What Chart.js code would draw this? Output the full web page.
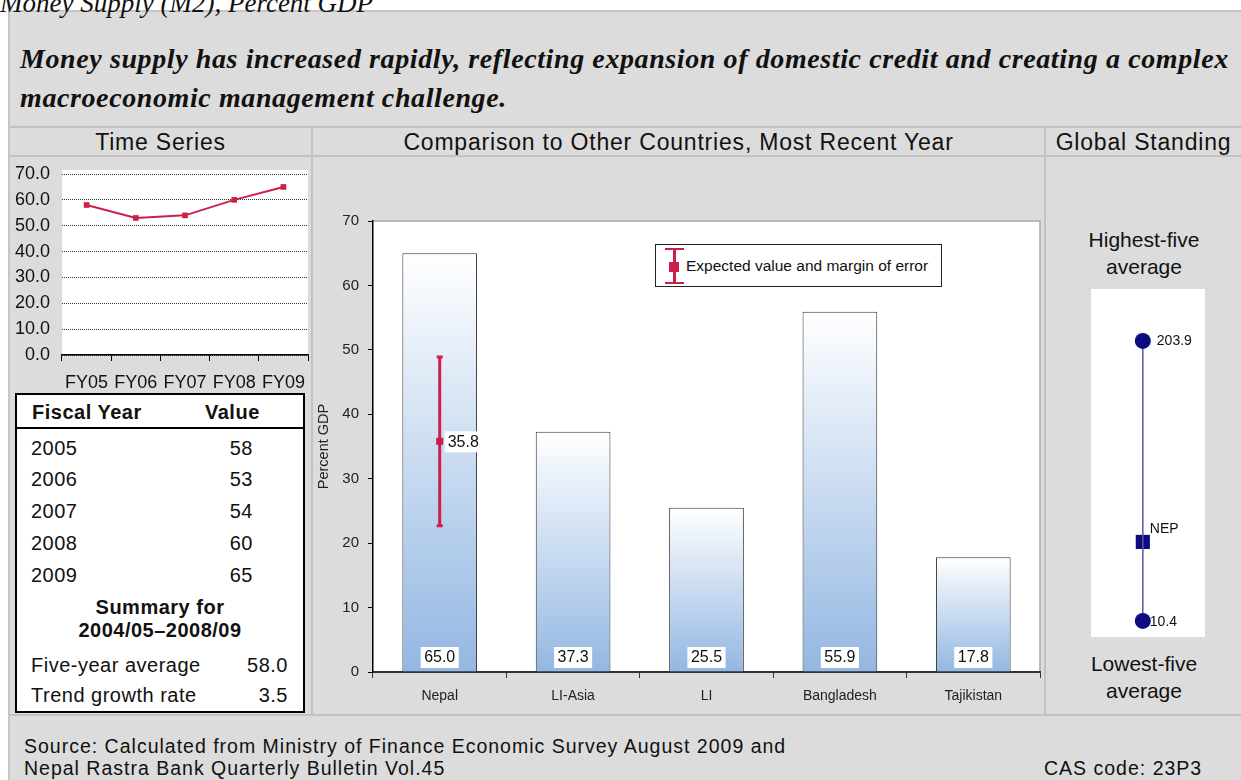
<!DOCTYPE html>
<html>
<head>
<meta charset="utf-8">
<script src="https://cdn.jsdelivr.net/npm/chart.js@4.4.1/dist/chart.umd.min.js"></script>
<style>
    body { margin: 0; background: #fff; font-family: "Liberation Sans", Arial, sans-serif; color: #111; }
    #page { position: relative; width: 1241px; height: 780px; overflow: hidden; }
    .abs { position: absolute; }
    .hline { position: absolute; height: 2px; background: #c2c2c2; }
    .vline { position: absolute; width: 2px; background: #c2c2c2; }
    .colhead { position: absolute; top: 128px; height: 28px; line-height: 28px; font-size: 23px; letter-spacing: 0.8px; text-align: center; white-space: nowrap; }
    #topTitle { left: 0; top: -12px; font: italic 27px "Liberation Serif", "Times New Roman", serif; white-space: nowrap; }
    #panel { left: 8px; top: 10px; width: 1240px; height: 780px; background: #dcdcdc; border-left: 2px solid #c6c6c6; border-top: 2px solid #c6c6c6; }
    #headline { left: 20px; top: 39px; font: italic bold 28px "Liberation Serif", "Times New Roman", serif; letter-spacing: 0.6px; line-height: 39px; white-space: nowrap; }
    #tsTable { left: 15px; top: 393px; width: 286px; height: 316px; border: 2px solid #000; background: #fff; font-size: 20px; letter-spacing: 0.5px; }
    #tsTable span { position: absolute; line-height: 24px; white-space: nowrap; }
    #legend { left: 655px; top: 244px; width: 285px; height: 41px; border: 1px solid #222; background: #fff; }
    .stand { position: absolute; left: 1047px; width: 194px; text-align: center; font-size: 21px; line-height: 27px; }
    .src { position: absolute; font-size: 19.5px; letter-spacing: 1px; line-height: 22px; white-space: nowrap; }
</style>
</head>
<body>
<div id="page">
    <div class="abs" id="panel"></div>
    <div class="abs" id="topTitle">Money Supply (M2), Percent GDP</div>
    <div class="abs" id="headline">Money supply has increased rapidly, reflecting expansion of domestic credit and creating a complex<br>macroeconomic management challenge.</div>

    <div class="hline" style="left:10px; top:126px; width:1231px;"></div>
    <div class="hline" style="left:10px; top:155px; width:1231px;"></div>
    <div class="hline" style="left:10px; top:714px; width:1231px;"></div>
    <div class="vline" style="left:311px; top:126px; height:590px;"></div>
    <div class="vline" style="left:1044px; top:126px; height:590px;"></div>

    <div class="colhead" style="left:10px; width:301px;">Time Series</div>
    <div class="colhead" style="left:313px; width:731px;">Comparison to Other Countries, Most Recent Year</div>
    <div class="colhead" style="left:1046px; width:195px;">Global Standing</div>

    <canvas id="tsChart" class="abs" style="left:8px; top:160px;" width="304" height="232"></canvas>
    <div class="abs" id="tsTable"></div>

    <canvas id="cmpChart" class="abs" style="left:313px; top:158px;" width="732" height="556"></canvas>
    <div class="abs" id="legend">
        <div class="abs" style="left:17px; top:4px; width:3px; height:34px; background:#cc1f4a;"></div>
        <div class="abs" style="left:9px; top:3px; width:19px; height:2px; background:#cc1f4a;"></div>
        <div class="abs" style="left:9px; top:37px; width:19px; height:2px; background:#cc1f4a;"></div>
        <div class="abs" style="left:13px; top:17px; width:10px; height:10px; background:#cc1f4a;"></div>
        <div class="abs" style="left:30px; top:0; line-height:41px; font-size:15.5px; white-space:nowrap;">Expected value and margin of error</div>
    </div>

    <div class="stand" style="top:226px;">Highest-five<br>average</div>
    <canvas id="gsChart" class="abs" style="left:1091px; top:289px; background:#fff;" width="114" height="348"></canvas>
    <div class="stand" style="top:650px;">Lowest-five<br>average</div>

    <div class="src" style="left:24px; top:735px;">Source: Calculated from Ministry of Finance Economic Survey August 2009 and</div>
    <div class="src" style="left:24px; top:757px;">Nepal Rastra Bank Quarterly Bulletin Vol.45</div>
    <div class="src" style="left:1044px; top:757px;">CAS code: 23P3</div>
</div>

<script>
// time series
const fyLabels = ['FY05', 'FY06', 'FY07', 'FY08', 'FY09'];
const fiscalYears = ['2005', '2006', '2007', '2008', '2009'];
const m2Values = [58, 53, 54, 60, 65];
const summaryPeriod = '2004/05\u20132008/09';
const fiveYearAverage = 58.0;
const trendGrowthRate = 3.5;

// comparison
const countries = ['Nepal', 'LI-Asia', 'LI', 'Bangladesh', 'Tajikistan'];
const countryValues = [65.0, 37.3, 25.5, 55.9, 17.8];
const expectedValues = [35.8, null, null, null, null];
const errorLow = [22.7, null, null, null, null];
const errorHigh = [48.9, null, null, null, null];

// global standing
const standingValues = [203.9, 10.4];
const nepalStanding = [65.0];
const nepalCode = 'NEP';

const crimson = '#cc1f4a';
const sansFont = { family: '"Liberation Sans", Arial, sans-serif' };

// table
const tbl = document.getElementById('tsTable');
const rowCenters = [448, 479, 511, 543, 575];
function span(text, centerY, style) {
    const top = centerY - 12 - 395;
    return `<span style="top:${top}px; ${style}">${text}</span>`;
}
let html = '';
html += span('Fiscal Year', 412, 'left:15px; font-weight:bold;');
html += span('Value', 412, 'left:188px; font-weight:bold;');
html += '<div style="position:absolute; left:0; top:32px; width:286px; height:2px; background:#000;"></div>';
fiscalYears.forEach((yr, i) => {
    html += span(yr, rowCenters[i], 'left:14px;');
    html += span(m2Values[i], rowCenters[i], 'left:0; width:236px; text-align:right;');
});
html += span('Summary for', 607, 'left:0; width:286px; text-align:center; font-weight:bold;');
html += span(summaryPeriod, 630, 'left:0; width:286px; text-align:center; font-weight:bold;');
html += span('Five-year average', 665, 'left:14px;');
html += span(fiveYearAverage.toFixed(1), 665, 'left:0; width:271px; text-align:right;');
html += span('Trend growth rate', 695, 'left:14px;');
html += span(trendGrowthRate.toFixed(1), 695, 'left:0; width:271px; text-align:right;');
tbl.innerHTML = html;

const tsBackground = {
    id: 'tsBackground',
    beforeDraw(chart) {
        const { ctx, chartArea } = chart;
        ctx.save();
        ctx.fillStyle = '#fff';
        ctx.fillRect(chartArea.left, chartArea.top - 4, chartArea.right - chartArea.left, chartArea.bottom - chartArea.top + 4);
        ctx.restore();
    }
};

new Chart(document.getElementById('tsChart'), {
    type: 'line',
    data: {
        labels: fyLabels,
        datasets: [{
            data: m2Values,
            borderColor: crimson,
            backgroundColor: crimson,
            borderWidth: 2,
            pointStyle: 'rect',
            pointRadius: 4,
            pointBackgroundColor: crimson,
            pointBorderWidth: 0
        }]
    },
    options: {
        responsive: false,
        animation: false,
        layout: { padding: { top: 14, right: 0, left: 0, bottom: 0 } },
        plugins: { legend: { display: false }, tooltip: { enabled: false } },
        scales: {
            x: {
                offset: true,
                afterFit: s => { s.height = 37; s.paddingLeft = 0; s.paddingRight = 0; },
                grid: { offset: true, drawOnChartArea: false, drawTicks: true, tickLength: 6, tickColor: '#000' },
                border: { color: '#000', width: 1.5 },
                ticks: { color: '#111', font: { ...sansFont, size: 18 }, padding: 11, maxRotation: 0 }
            },
            y: {
                min: 0,
                max: 70,
                afterFit: s => { s.width = 54; s.paddingTop = 0; s.paddingBottom = 0; },
                grid: { color: '#333', lineWidth: 1, drawTicks: false },
                border: { display: false, dash: [1, 1] },
                ticks: {
                    stepSize: 10,
                    color: '#111',
                    font: { ...sansFont, size: 18 },
                    padding: 12,
                    callback: v => v.toFixed(1)
                }
            }
        }
    },
    plugins: [tsBackground]
});

// comparison chart
const plotFrame = {
    id: 'plotFrame',
    beforeDraw(chart) {
        const { ctx, chartArea: a } = chart;
        ctx.save();
        ctx.fillStyle = '#fff';
        ctx.fillRect(a.left, a.top, a.right - a.left, a.bottom - a.top);
        ctx.strokeStyle = '#a8a8a8';
        ctx.lineWidth = 1.5;
        ctx.beginPath();
        ctx.moveTo(a.left, a.top);
        ctx.lineTo(a.right, a.top);
        ctx.lineTo(a.right, a.bottom);
        ctx.stroke();
        ctx.restore();
    }
};

const errorBars = {
    id: 'errorBars',
    beforeDatasetDraw(chart, args) {
        if (args.index !== 1) return;
        const { ctx } = chart;
        const ys = chart.scales.y;
        const pts = chart.getDatasetMeta(1).data;
        ctx.save();
        ctx.strokeStyle = crimson;
        pts.forEach((p, i) => {
            if (errorLow[i] == null) return;
            const yTop = ys.getPixelForValue(errorHigh[i]);
            const yBot = ys.getPixelForValue(errorLow[i]);
            ctx.lineWidth = 3;
            ctx.beginPath();
            ctx.moveTo(p.x, yTop);
            ctx.lineTo(p.x, yBot);
            ctx.stroke();
            ctx.beginPath();
            ctx.moveTo(p.x - 3, yTop); ctx.lineTo(p.x + 3, yTop);
            ctx.moveTo(p.x - 3, yBot); ctx.lineTo(p.x + 3, yBot);
            ctx.stroke();
        });
        ctx.restore();
    },
    afterDatasetsDraw(chart) {
        const { ctx } = chart;
        const ys = chart.scales.y;
        const base = ys.getPixelForValue(0);
        ctx.save();
        ctx.font = '16px "Liberation Sans", Arial, sans-serif';
        ctx.textBaseline = 'middle';
        chart.getDatasetMeta(0).data.forEach((bar, i) => {
            const txt = countryValues[i].toFixed(1);
            const w = ctx.measureText(txt).width + 7;
            ctx.fillStyle = '#fff';
            ctx.fillRect(bar.x - w / 2, base - 25, w, 21);
            ctx.fillStyle = '#111';
            ctx.textAlign = 'center';
            ctx.fillText(txt, bar.x, base - 14);
        });
        chart.getDatasetMeta(1).data.forEach((p, i) => {
            if (expectedValues[i] == null) return;
            const txt = expectedValues[i].toFixed(1);
            const w = ctx.measureText(txt).width + 6;
            ctx.fillStyle = '#fff';
            ctx.fillRect(p.x + 5, p.y - 10, w, 21);
            ctx.fillStyle = '#111';
            ctx.textAlign = 'left';
            ctx.fillText(txt, p.x + 8, p.y + 1);
        });
        ctx.restore();
    }
};

function barGradient(c) {
    if (c.type !== 'data' || !c.chart.chartArea) return '#a8c4e7';
    const ys = c.chart.scales.y;
    const top = ys.getPixelForValue(c.raw);
    const bottom = ys.getPixelForValue(0);
    const g = c.chart.ctx.createLinearGradient(0, top, 0, bottom);
    g.addColorStop(0, '#ffffff');
    g.addColorStop(1, '#93b7e2');
    return g;
}

new Chart(document.getElementById('cmpChart'), {
    type: 'bar',
    data: {
        labels: countries,
        datasets: [{
            type: 'bar',
            data: countryValues,
            backgroundColor: barGradient,
            borderColor: '#333',
            borderWidth: 1,
            barPercentage: 0.7,
            categoryPercentage: 0.8,
            order: 1
        }, {
            type: 'line',
            data: expectedValues,
            showLine: false,
            pointStyle: 'rect',
            pointRadius: 5,
            pointBackgroundColor: crimson,
            pointBorderWidth: 0,
            order: 0
        }]
    },
    options: {
        responsive: false,
        animation: false,
        layout: { padding: { top: 63, right: 3, left: 0, bottom: 0 } },
        plugins: { legend: { display: false }, tooltip: { enabled: false } },
        scales: {
            x: {
                afterFit: s => { s.height = 42; },
                grid: { offset: true, drawOnChartArea: false, drawTicks: true, tickLength: 6, tickColor: '#333' },
                border: { color: '#333', width: 2 },
                ticks: { color: '#222', font: { ...sansFont, size: 14 }, padding: 10, maxRotation: 0 }
            },
            y: {
                min: 0,
                max: 70,
                afterFit: s => { s.width = 60; },
                grid: { drawOnChartArea: false, drawTicks: true, tickLength: 5, tickColor: '#000' },
                border: { color: '#000', width: 1.5 },
                title: { display: true, text: 'Percent GDP', color: '#222', font: { ...sansFont, size: 14.5 }, padding: { top: 2, bottom: 0 } },
                ticks: { stepSize: 10, color: '#222', font: { ...sansFont, size: 15 }, padding: 9 }
            }
        }
    },
    plugins: [plotFrame, errorBars]
});

// global standing
const standingLabels = {
    id: 'standingLabels',
    afterDatasetsDraw(chart) {
        const { ctx } = chart;
        const circles = chart.getDatasetMeta(0).data;
        const sq = chart.getDatasetMeta(1).data[0];
        ctx.save();
        ctx.font = '14px "Liberation Sans", Arial, sans-serif';
        ctx.fillStyle = '#111';
        ctx.textBaseline = 'middle';
        ctx.textAlign = 'left';
        ctx.fillText(standingValues[0].toFixed(1), circles[0].x + 14, circles[0].y);
        ctx.fillText(standingValues[1].toFixed(1), circles[1].x + 7, circles[1].y + 1);
        ctx.fillText(nepalCode, sq.x + 7, sq.y - 13);
        ctx.restore();
    }
};

new Chart(document.getElementById('gsChart'), {
    type: 'scatter',
    data: {
        datasets: [{
            data: standingValues.map(v => ({ x: 0, y: v })),
            showLine: true,
            borderColor: '#5858a8',
            borderWidth: 1.5,
            pointStyle: 'circle',
            pointRadius: 8,
            pointBackgroundColor: '#0c0c80',
            pointBorderWidth: 0
        }, {
            data: nepalStanding.map(v => ({ x: 0, y: v })),
            pointStyle: 'rect',
            pointRadius: 10,
            pointBackgroundColor: '#0c0c80',
            pointBorderWidth: 0
        }]
    },
    options: {
        responsive: false,
        animation: false,
        layout: { padding: 0, autoPadding: false },
        plugins: { legend: { display: false }, tooltip: { enabled: false } },
        scales: {
            x: { display: false, min: -1, max: 1.2 },
            y: { display: false, min: -0.7, max: 239.8 }
        }
    },
    plugins: [standingLabels]
});
</script>
</body>
</html>
